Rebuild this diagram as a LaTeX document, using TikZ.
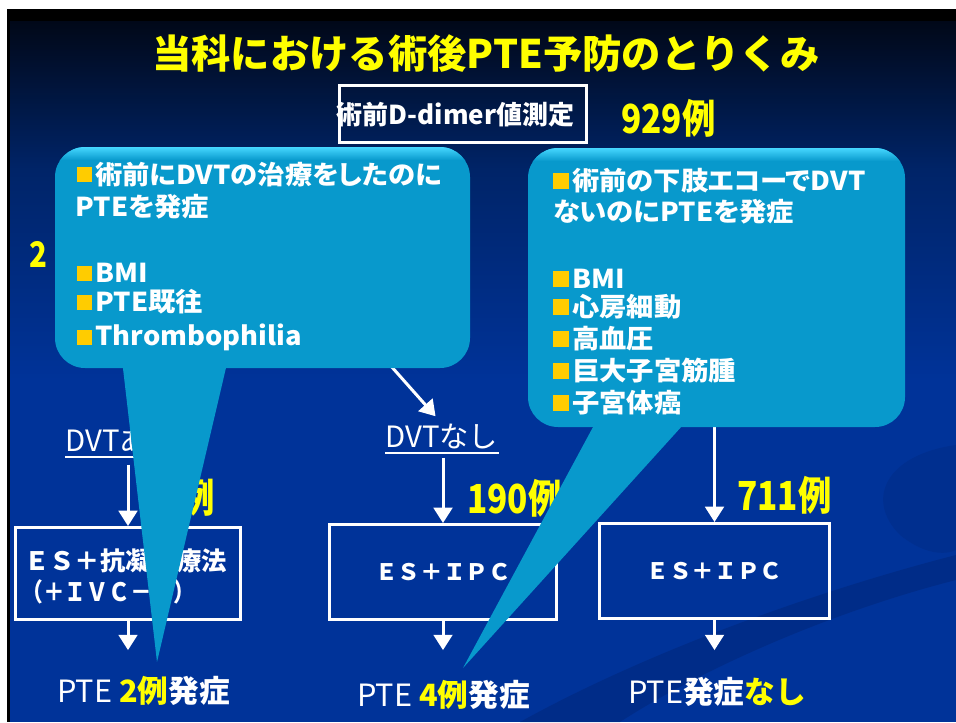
\documentclass[tikz,border=0pt]{standalone}
\usepackage{fontspec}
\setmainfont{Noto Sans CJK JP}
\newfontfamily\jpp{Noto Sans CJK JP}[RawFeature=+palt]
\usepackage{graphicx}
\usetikzlibrary{arrows.meta,calc}
\definecolor{ttlyellow}{RGB}{255,255,0}
\definecolor{bgtop}{RGB}{1,8,24}
\definecolor{bgmid}{RGB}{0,36,104}
\definecolor{bgblue}{RGB}{0,51,153}
\definecolor{swoosh}{RGB}{0,40,125}
\definecolor{cbase}{RGB}{8,153,204}
\definecolor{crim}{RGB}{70,215,255}
\definecolor{bulletc}{RGB}{255,204,0}
\newcommand\fsz[1]{\fontsize{#1}{#1}\selectfont}
\newcommand\stretchx[2]{\scalebox{#1}[1]{#2}}
\newcommand\tallnum[1]{\scalebox{1}[1.2]{#1}}
\newcommand\ctx[1]{\stretchx{1.05}{#1}}
\begin{document}
\begin{tikzpicture}[x=0.75pt,y=-0.75pt,
  txt/.style={inner sep=0pt,text=white},
  ylw/.style={inner sep=0pt,text=ttlyellow,font=\fsz{25}\bfseries},
  wbox/.style={draw=white,line width=2.25pt,inner sep=0pt},
  arr/.style={draw=white,line width=2.25pt,-{Triangle[width=14pt,length=11.5pt]}},
  ctext/.style={inner sep=0pt,text=white,font=\jpp\fsz{19.5}\bfseries,anchor=west},
  bul/.style={fill=bulletc},
  callout/.style={fill=cbase}
]
\useasboundingbox (0,0) rectangle (956,722);
% background
\fill[white] (0,0) rectangle (956,722);
\fill[black] (7,9) rectangle (956,722);
\shade[top color=bgtop,bottom color=bgmid] (10,21) rectangle (956,170);
\shade[top color=bgmid,bottom color=bgblue] (10,170) rectangle (956,380);
\fill[bgblue] (10,380) rectangle (956,722);
\fill[swoosh,opacity=0.6] (520,722) .. controls (650,650) and (820,590) .. (956,555) -- (956,580) .. controls (830,612) and (700,670) .. (620,722) -- cycle;
\fill[swoosh,opacity=0.35] (956,445) .. controls (885,455) and (865,500) .. (900,535) .. controls (925,555) and (945,555) .. (956,550) -- cycle;

% title
\node[txt,text=ttlyellow,font=\fsz{29.5}\bfseries] (title) at (486,54) {当科における術後PTE予防のとりくみ};

% D-dimer box
\node[wbox,minimum width=185.25pt,minimum height=42.75pt] (dbox) at (463,114) {};
\node[txt,font=\fsz{19.5}\bfseries] (dtext) at (455.5,115) {術前D-dimer値測定};
\node[ylw,anchor=west] (n929) at (621,118) {\tallnum{929例}};

\node[ylw,font=\fsz{22}\bfseries] (two) at (38,254) {\tallnum{2}};

% DVT labels
\node[txt,font=\fsz{22},anchor=west] (dvtari) at (65,441) {DVTあり};
\draw[white,line width=1.5pt] ($(dvtari.south west)+(0,3)$) -- ($(dvtari.south east)+(0,3)$);
\node[txt,font=\fsz{22},anchor=west] (dvtnashi) at (385,436) {DVTなし};
\draw[white,line width=1.5pt] ($(dvtnashi.south west)+(0,4)$) -- ($(dvtnashi.south east)+(0,4)$);

\coordinate (dsrc) at (351,321);
\draw[arr,shorten >=7pt] (dsrc) -- (dvtnashi.north);

% boxes
\node[wbox,minimum width=168.75pt,minimum height=69pt] (lbox) at (128,573.5) {};
\node[txt,font=\fsz{19}\bfseries,anchor=west] (lbox1) at (24,561) {ＥＳ＋抗凝固療法};
\node[txt,font=\fsz{19}\bfseries,anchor=west] (lbox2) at (21,592) {\stretchx{0.86}{（＋ＩＶＣ－Ｆ）}};
\node[wbox,minimum width=170.25pt,minimum height=71.25pt,font=\fsz{17}\bfseries,text=white] (mbox) at (443,572) {ＥＳ＋ＩＰＣ};
\node[wbox,minimum width=172.5pt,minimum height=71.25pt,font=\fsz{17}\bfseries,text=white] (rbox) at (714.5,571) {ＥＳ＋ＩＰＣ};

% counts
\node[ylw,anchor=east] (n28) at (215,497) {\tallnum{28例}};
\node[ylw,anchor=west] (n190) at (467,498) {\tallnum{190例}};
\node[ylw,anchor=west] (n711) at (737,495) {\tallnum{711例}};

% arrows to boxes
\draw[arr] ($(lbox.north |- dvtari.south)+(0,11)$) -- (lbox.north);
\draw[arr] ($(mbox.north |- dvtnashi.south)+(0,9)$) -- (mbox.north);
\coordinate (rsrc) at (714.5,400);
\draw[arr] (rsrc) -- (rbox.north);

% results
\node[txt,font=\fsz{23},anchor=west] (res1) at (57,691) {PTE \textcolor{ttlyellow}{\bfseries 2例}{\bfseries 発症}};
\node[txt,font=\fsz{23},anchor=west] (res2) at (357,695) {PTE \textcolor{ttlyellow}{\bfseries 4例}{\bfseries 発症}};
\node[txt,font=\fsz{23},anchor=west] (res3) at (628,692) {PTE{\bfseries 発症\textcolor{ttlyellow}{なし}}};
\draw[arr,shorten >=19.5pt] (lbox.south) -- (lbox.south |- res1.north);
\draw[arr,shorten >=19.5pt] (mbox.south) -- (mbox.south |- res1.north);
\draw[arr,shorten >=19.5pt] (rbox.south) -- (rbox.south |- res1.north);

% left callout
\fill[callout,rounded corners=22.5pt] (55,147) rectangle (470,368);
\fill[callout] (121.8,358) -- (157,662) -- (228.3,358) -- cycle;
\begin{scope}
\clip[rounded corners=22.5pt] (55,147) rectangle (470,368);
\shade[top color=crim,bottom color=cbase] (55,147) rectangle (470,160);
\end{scope}
\fill[bul] (77,167) rectangle (92,182);
\node[ctext] (l1) at (95,175) {\ctx{術前にDVTの治療をしたのに}};
\node[ctext] (l2) at (75,207) {\ctx{PTEを発症}};
\fill[bul] (77,266) rectangle (92,281);
\node[ctext] (l3) at (95,273) {\ctx{BMI}};
\fill[bul] (77,295) rectangle (92,310);
\node[ctext] (l4) at (95,302) {\ctx{PTE既往}};
\fill[bul] (77,330) rectangle (92,345);
\node[ctext] (l5) at (95,337) {\ctx{Thrombophilia}};

% right callout
\fill[callout,rounded corners=22.5pt] (528,148) rectangle (905,427);
\fill[callout] (599.5,415) -- (463,668) -- (692,415) -- cycle;
\begin{scope}
\clip[rounded corners=22.5pt] (528,148) rectangle (905,427);
\shade[top color=crim,bottom color=cbase] (528,148) rectangle (905,161);
\end{scope}
\fill[bul] (553,173) rectangle (569,189);
\node[ctext] (r1) at (572,181) {\ctx{術前の下肢エコーでDVT}};
\node[ctext] (r2) at (553,212) {\ctx{ないのにPTEを発症}};
\fill[bul] (553,271) rectangle (569,287);
\node[ctext] (r3) at (572,279) {\ctx{BMI}};
\fill[bul] (553,299) rectangle (569,315);
\node[ctext] (r4) at (572,307) {\ctx{心房細動}};
\fill[bul] (553,331) rectangle (569,347);
\node[ctext] (r5) at (572,339) {\ctx{高血圧}};
\fill[bul] (553,363) rectangle (569,379);
\node[ctext] (r6) at (572,371) {\ctx{巨大子宮筋腫}};
\fill[bul] (553,395) rectangle (569,411);
\node[ctext] (r7) at (572,403) {\ctx{子宮体癌}};
\end{tikzpicture}
\end{document}
